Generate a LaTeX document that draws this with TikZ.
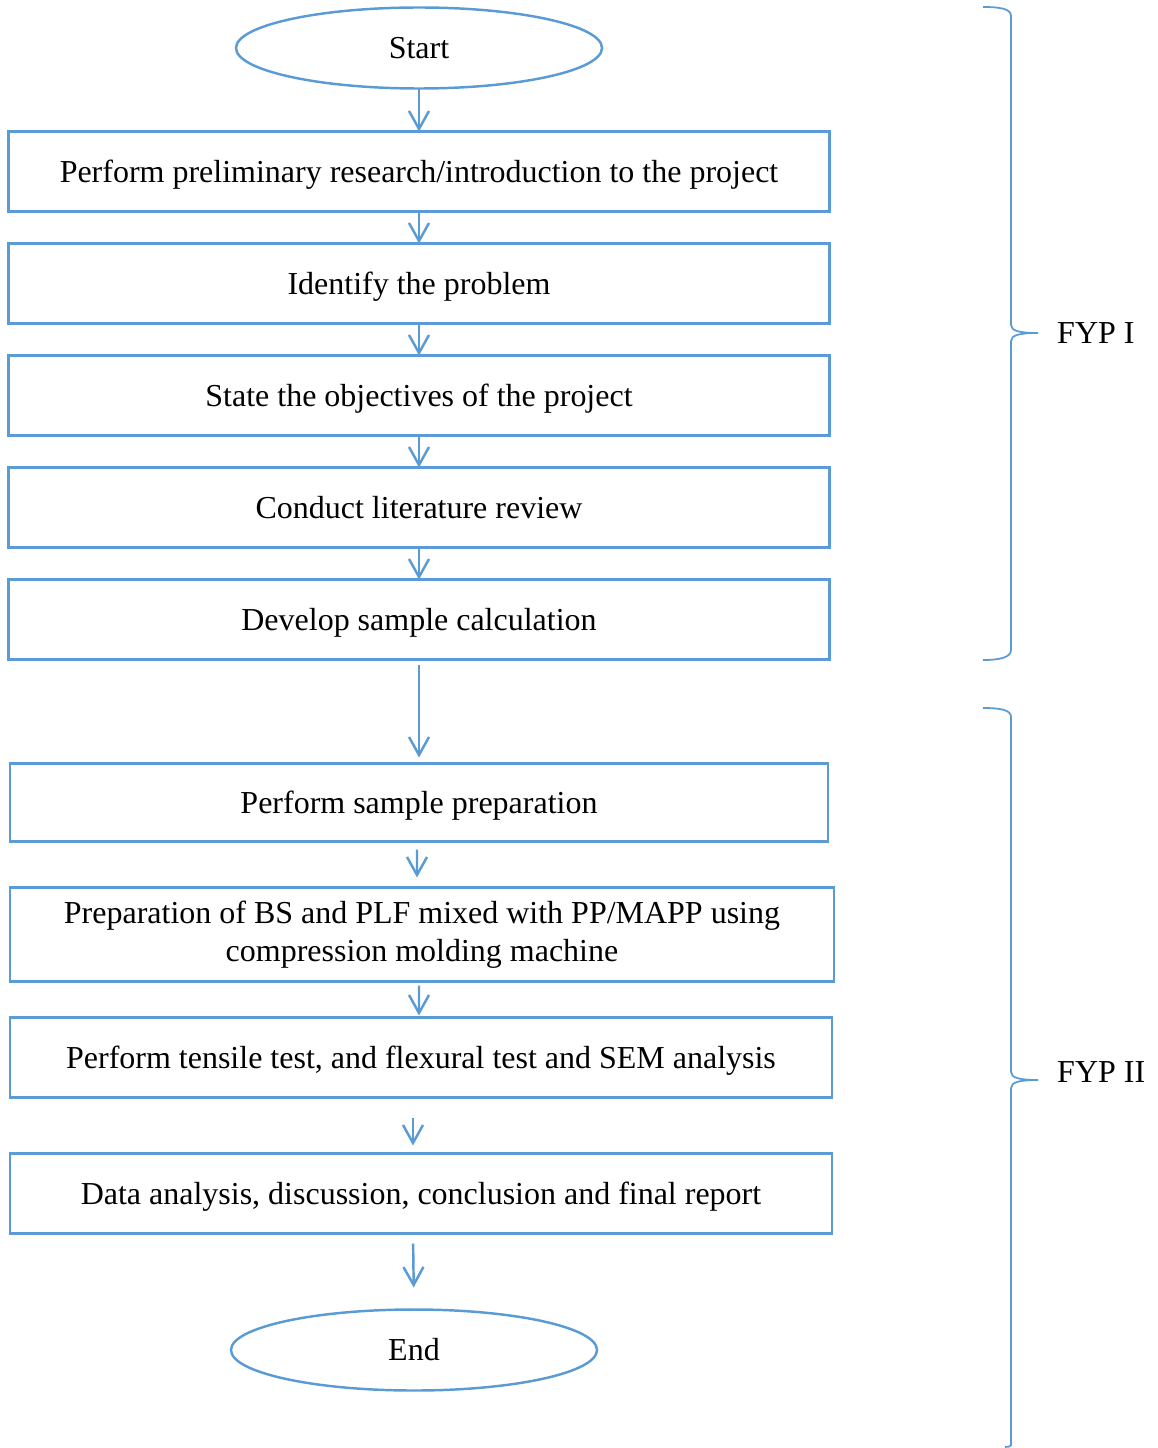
\documentclass[tikz,border=0pt]{standalone}
\usepackage{fontspec}
\setmainfont{Liberation Serif}
\usetikzlibrary{positioning,shapes.geometric,arrows.meta}
\definecolor{flowblue}{RGB}{91,155,213}

\begin{document}
\begin{tikzpicture}[
		stepbox/.style={rectangle,draw=flowblue,line width=1.4pt,minimum width=16.42cm,minimum height=1.6cm,inner sep=0pt,outer sep=0pt,text height=0.5cm,text depth=0.05cm,align=center,font=\fontsize{18.2}{21.6}\selectfont},
		termnode/.style={ellipse,draw=flowblue,line width=1.4pt,minimum width=7.32cm,minimum height=1.62cm,inner sep=0pt,outer sep=0pt,font=\fontsize{18.2}{21.6}\selectfont},
		flow/.style={draw=flowblue,line width=1.4pt,-{Straight Barb[length=0.36cm,width=0.4cm]}},
		bracket/.style={draw=flowblue,line width=1pt},
		phase/.style={anchor=west,font=\fontsize{18.2}{21.6}\selectfont}]
		\useasboundingbox (0,0) rectangle (23.14,-28.96);
		% FYP I
		\node[termnode] (start) at (8.38,-0.96) {Start};
		\node[stepbox] (prelim) [below = 0.86cm of start] {Perform preliminary research/introduction to the project};
		\node[stepbox] (problem) [below = 0.64cm of prelim] {Identify the problem};
		\node[stepbox] (objectives) [below = 0.64cm of problem] {State the objectives of the project};
		\node[stepbox] (literature) [below = 0.64cm of objectives] {Conduct literature review};
		\node[stepbox] (calculation) [below = 0.64cm of literature] {Develop sample calculation};
		% FYP II
		\node[stepbox,minimum width=16.36cm,minimum height=1.56cm] (sampleprep) [below = 2.08cm of calculation] {Perform sample preparation};
		\node[stepbox,text height=,text depth=,minimum width=16.48cm,minimum height=1.88cm] (molding) [below = 0.92cm of sampleprep, xshift=0.06cm] {Preparation of BS and PLF mixed with PP/MAPP using\\compression molding machine};
		\node[stepbox,minimum width=16.44cm] (testing) [below = 0.72cm of molding, xshift=-0.02cm] {Perform tensile test, and flexural test and SEM analysis};
		\node[stepbox,minimum width=16.44cm] (report) [below = 1.12cm of testing] {Data analysis, discussion, conclusion and final report};
		\node[termnode] (end) [below = 1.52cm of report, xshift=-0.14cm] {End};
		\draw[flow] (start.south) -- (prelim.north);
		\draw[flow] (prelim) -- (problem);
		\draw[flow] (problem) -- (objectives);
		\draw[flow] (objectives) -- (literature);
		\draw[flow] (literature) -- (calculation);
		\draw[flow,shorten <=0.1cm,shorten >=0.12cm] (calculation) -- (sampleprep);
		\draw[flow,shorten <=0.16cm,shorten >=0.2cm] ([xshift=-0.04cm]sampleprep.south) -- ([xshift=-0.1cm]molding.north);
		\draw[flow,shorten <=0.08cm,shorten >=0.04cm] ([xshift=-0.06cm]molding.south) -- ([xshift=-0.04cm]testing.north);
		\draw[flow,shorten <=0.4cm,shorten >=0.16cm] ([xshift=-0.16cm]testing.south) -- ([xshift=-0.16cm]report.north);
		\draw[flow,shorten <=0.2cm,shorten >=0.44cm] ([xshift=-0.16cm]report.south) -- (end.north);
		% braces
		\node[phase] (fypone) at (21.02,-6.66) {FYP I};
		\node[phase] (fyptwo) at (21.02,-21.44) {FYP II};
		\draw[bracket] (19.66,-0.14) .. controls (20.02,-0.14) and (20.22,-0.18) .. (20.22,-0.32)
			-- (20.22,-6.5) .. controls (20.22,-6.62) and (20.4,-6.66) .. (20.76,-6.66)
			.. controls (20.4,-6.66) and (20.22,-6.7) .. (20.22,-6.82)
			-- (20.22,-13.0) .. controls (20.22,-13.14) and (20.02,-13.2) .. (19.66,-13.2);
		\draw[bracket] (19.66,-14.16) .. controls (20.02,-14.16) and (20.22,-14.2) .. (20.22,-14.34)
			-- (20.22,-21.44) .. controls (20.22,-21.56) and (20.4,-21.6) .. (20.76,-21.6)
			.. controls (20.4,-21.6) and (20.22,-21.64) .. (20.22,-21.76)
			-- (20.22,-28.9) .. controls (20.22,-28.93) and (20.16,-28.94) .. (20.1,-28.94);
	\end{tikzpicture}
\end{document}
